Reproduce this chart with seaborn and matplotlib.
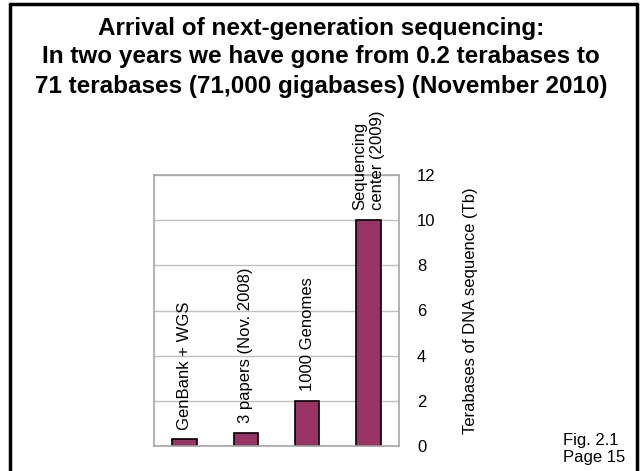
import matplotlib
matplotlib.use("Agg")
import matplotlib.pyplot as plt
from matplotlib.lines import Line2D
import seaborn as sns
import pandas as pd

# Sequence output by project (terabases)
projects = ["GenBank + WGS", "3 papers (Nov. 2008)", "1000 Genomes", "Sequencing\ncenter (2009)"]
terabases = [0.3, 0.57, 2.0, 10.0]
yticks = [0, 2, 4, 6, 8, 10, 12]

title_lines = [
    "Arrival of next-generation sequencing:",
    "In two years we have gone from 0.2 terabases to",
    "71 terabases (71,000 gigabases) (November 2010)",
]

sns.set_theme(style="white")
plt.rcParams["font.family"] = ["Liberation Sans", "DejaVu Sans"]
plt.rcParams.update({"text.color": "black", "axes.labelcolor": "black",
                     "xtick.color": "black", "ytick.color": "black"})

df = pd.DataFrame({"project": projects, "tb": terabases})

W, H = 642, 471
fig = plt.figure(figsize=(W / 100, H / 100), dpi=100)
fig.patch.set_facecolor("white")

# plot area in pixel terms
left, right, top, bottom = 154, 399, 175, 446
ax = fig.add_axes([left / W, 1 - bottom / H, (right - left) / W, (bottom - top) / H])

sns.barplot(data=df, x="project", y="tb", color="#993366", edgecolor="black",
            linewidth=1.2, width=0.4, saturation=1, ax=ax)

ax.set_xlim(-0.5, len(projects) - 0.5)
ax.set_ylim(0, 12)
ax.set_yticks(yticks)
ax.set_yticklabels([str(t) for t in yticks], fontsize=12)
ax.yaxis.tick_right()
ax.yaxis.set_label_position("right")
ax.tick_params(axis="y", length=0, pad=13)
for lbl in ax.get_yticklabels():
    lbl.set_horizontalalignment("left")
ax.set_xticks([])
ax.set_xlabel("")
ax.set_ylabel("Terabases of DNA sequence (Tb)", fontsize=12, labelpad=20)

ax.grid(axis="y", color="#c0c0c0", linewidth=1)
ax.set_axisbelow(True)
for sp in ax.spines.values():
    sp.set_visible(True)
    sp.set_color("#a6a6a6")
    sp.set_linewidth(1.2)

# rotated labels above each bar
for i, (name, val) in enumerate(zip(projects, terabases)):
    ax.annotate(name, xy=(i, val), xytext=(0, 7), textcoords="offset points",
                rotation=90, ha="center", va="bottom", multialignment="left",
                fontsize=12)

# title
for k, line in enumerate(title_lines):
    fig.text(0.5, 1 - (28 + 29 * k) / H, line, ha="center", va="center",
             fontsize=17.5, fontweight="bold")

fig.text(563 / W, 1 - 449 / H, "Fig. 2.1\nPage 15", ha="left", va="center",
         fontsize=12, linespacing=1.15)

# slide frame
frame_kw = dict(color="black", linewidth=2.5, transform=fig.transFigure)
fig.add_artist(Line2D([9.5 / W, 9.5 / W], [0, 1 - 4 / H], **frame_kw))
fig.add_artist(Line2D([636.5 / W, 636.5 / W], [0, 1 - 4 / H], **frame_kw))
fig.add_artist(Line2D([9.5 / W, 636.5 / W], [1 - 4 / H, 1 - 4 / H], **frame_kw))

fig.savefig("out.png", dpi=100)
